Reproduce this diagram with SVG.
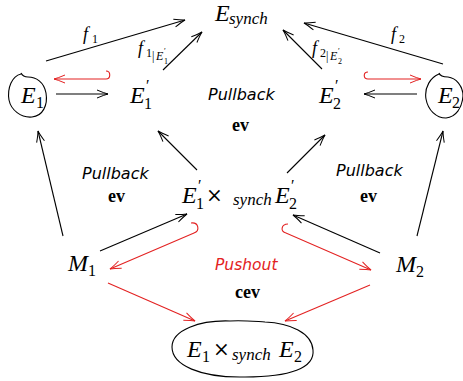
<svg xmlns="http://www.w3.org/2000/svg" width="463" height="381" viewBox="0 0 463 381">
<defs>
<style>
.m{font-family:"Liberation Serif","DejaVu Serif",serif;font-style:italic;font-size:24px;fill:#000}
.s{font-family:"Liberation Serif","DejaVu Serif",serif;font-style:italic;font-size:17px;fill:#000}
.d{font-family:"Liberation Serif","DejaVu Serif",serif;font-size:16px;fill:#000}
.x{font-family:"DejaVu Serif",serif;font-size:20px;fill:#000}
.p{font-family:"Liberation Serif","DejaVu Serif",serif;font-size:16px;fill:#000}
.lf{font-family:"Liberation Serif","DejaVu Serif",serif;font-style:italic;font-size:18px;fill:#000}
.ld{font-family:"Liberation Serif","DejaVu Serif",serif;font-size:12px;fill:#000}
.lsi{font-family:"Liberation Serif","DejaVu Serif",serif;font-style:italic;font-size:12px;fill:#000}
.lss{font-family:"Liberation Serif","DejaVu Serif",serif;font-size:8px;fill:#000}
.pb{font-family:"DejaVu Sans",sans-serif;font-style:italic;font-size:16px;fill:#000}
.pr{font-family:"DejaVu Sans",sans-serif;font-style:italic;font-size:15.5px;fill:#e32222}
.b{font-family:"Liberation Serif","DejaVu Serif",serif;font-weight:bold;font-size:18px;fill:#000}
.k{fill:none;stroke:#000;stroke-width:1.1}
.r{fill:none;stroke:#e32222;stroke-width:1.1}
.blob{fill:none;stroke:#000;stroke-width:1.1}
</style>
<marker id="ak" viewBox="-13 -5 14 10" refX="0" refY="0" markerWidth="14" markerHeight="10" markerUnits="userSpaceOnUse" orient="auto">
<path d="M-11,-4 Q-4,-1 0,0 Q-4,1 -11,4" fill="none" stroke="#000" stroke-width="1"/>
</marker>
<marker id="ar" viewBox="-13 -5 14 10" refX="0" refY="0" markerWidth="14" markerHeight="10" markerUnits="userSpaceOnUse" orient="auto">
<path d="M-11,-4 Q-4,-1 0,0 Q-4,1 -11,4" fill="none" stroke="#e32222" stroke-width="1"/>
</marker>
</defs>
<rect width="463" height="381" fill="#fff"/>

<g id="connectors">
<line class="k" x1="46" y1="61" x2="185" y2="20" marker-end="url(#ak)"/>
<line class="k" x1="163" y1="70" x2="202" y2="32" marker-end="url(#ak)"/>
<line class="k" x1="443" y1="64" x2="304" y2="23" marker-end="url(#ak)"/>
<line class="k" x1="322" y1="69" x2="283" y2="30" marker-end="url(#ak)"/>
<line class="k" x1="56" y1="94" x2="108" y2="94" marker-end="url(#ak)"/>
<line class="k" x1="417" y1="94" x2="364" y2="94" marker-end="url(#ak)"/>
<line class="k" x1="63" y1="236" x2="38" y2="131" marker-end="url(#ak)"/>
<line class="k" x1="417" y1="236" x2="443" y2="131" marker-end="url(#ak)"/>
<line class="k" x1="197" y1="170" x2="158" y2="131" marker-end="url(#ak)"/>
<line class="k" x1="287" y1="173" x2="325" y2="135" marker-end="url(#ak)"/>
<line class="k" x1="100" y1="251" x2="187" y2="214" marker-end="url(#ak)"/>
<line class="k" x1="380" y1="253" x2="293" y2="215" marker-end="url(#ak)"/>
<path class="r" d="M106,71 C111,71 111,79 106,79 L54,79" marker-end="url(#ar)"/>
<path class="r" d="M368,72 C363,72 363,79 368,79 L421,79" marker-end="url(#ar)"/>
<path class="r" d="M191,223 C199,222 200,231 194,233 L110,269" marker-end="url(#ar)"/>
<path class="r" d="M288,224 C281,224 280,232 286,233 L371,270" marker-end="url(#ar)"/>
<line class="r" x1="108" y1="283" x2="195" y2="321" marker-end="url(#ar)"/>
<line class="r" x1="370" y1="285" x2="285" y2="321" marker-end="url(#ar)"/>
</g>

<g id="label-f1"><text class="lf" x="83" y="40">f</text><text class="ld" x="92" y="43">1</text></g>
<g id="label-f2"><text class="lf" x="391" y="40">f</text><text class="ld" x="399" y="43">2</text></g>
<g id="label-f1r"><text class="lf" x="138" y="54">f</text><text class="ld" x="146" y="57">1</text><text class="ld" x="152" y="60">|</text><text class="lsi" x="156" y="60">E</text><text class="lss" x="164" y="54">′</text><text class="lss" x="164" y="64">1</text></g>
<g id="label-f2r"><text class="lf" x="312" y="54">f</text><text class="ld" x="320" y="57">2</text><text class="ld" x="326" y="60">|</text><text class="lsi" x="330" y="60">E</text><text class="lss" x="338" y="54">′</text><text class="lss" x="338" y="64">2</text></g>

<g id="Esynch"><text class="m" x="215" y="21">E</text><text class="s" x="229" y="24">synch</text></g>

<g id="E1">
<path class="blob" d="M21,74 C12,76 7,88 9,100 C11,110 21,118 32,117 C43,116 48,105 46,93 C44,82 36,77 28,77 C24,77 22,75 21,73"/>
<text class="m" x="21" y="103">E</text><text class="d" x="36" y="108">1</text>
</g>
<g id="E1p"><text class="m" x="130" y="103">E</text><text class="p" x="146" y="91">′</text><text class="d" x="144" y="109">1</text></g>
<g id="E2p"><text class="m" x="319" y="103">E</text><text class="p" x="335" y="91">′</text><text class="d" x="333" y="109">2</text></g>
<g id="E2">
<path class="blob" d="M439,74 C431,77 424,87 426,99 C428,110 436,118 446,118 C456,117 462,108 463,96 C463,86 456,78 448,77 C444,77 440,76 439,73"/>
<text class="m" x="438" y="103">E</text><text class="d" x="452" y="108">2</text>
</g>

<g id="pullback-top"><text class="pb" x="208" y="100">Pullback</text><text class="b" x="232" y="131">ev</text></g>
<g id="pullback-left"><text class="pb" x="82" y="179">Pullback</text><text class="b" x="108" y="202">ev</text></g>
<g id="pullback-right"><text class="pb" x="336" y="176">Pullback</text><text class="b" x="360" y="202">ev</text></g>
<g id="pushout"><text class="pr" x="215" y="270">Pushout</text><text class="b" x="235" y="298">cev</text></g>

<g id="E1pxE2p">
<text class="m" x="182" y="203">E</text><text class="p" x="198" y="191">′</text><text class="d" x="196" y="209">1</text>
<text class="x" x="206" y="202">×</text><text class="s" x="233" y="205">synch</text>
<text class="m" x="275" y="203">E</text><text class="p" x="291" y="191">′</text><text class="d" x="289" y="209">2</text>
</g>

<g id="M1"><text class="m" x="68" y="271">M</text><text class="d" x="88" y="276">1</text></g>
<g id="M2"><text class="m" x="396" y="272">M</text><text class="d" x="416" y="277">2</text></g>

<g id="E1xE2">
<path class="blob" d="M230,321 C200,320 172,330 172,347 C172,365 200,378 245,377 C290,377 315,368 313,350 C312,333 290,323 265,322 C250,321 240,320 230,321 Z"/>
<text class="m" x="187" y="357">E</text><text class="d" x="202" y="362">1</text>
<text class="x" x="213" y="356">×</text><text class="s" x="232" y="360">synch</text>
<text class="m" x="279" y="357">E</text><text class="d" x="294" y="362">2</text>
</g>
</svg>
